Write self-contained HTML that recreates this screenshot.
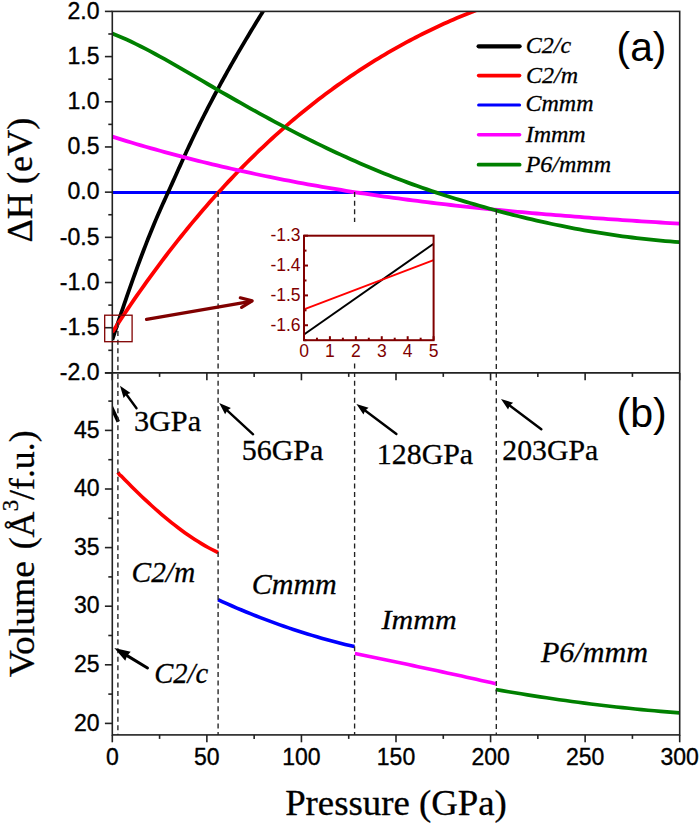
<!DOCTYPE html>
<html><head><meta charset="utf-8"><style>
html,body{margin:0;padding:0;background:#fff;}
svg{display:block;}
</style></head><body>
<svg width="700" height="825" viewBox="0 0 700 825">
<rect width="700" height="825" fill="#fff"/>
<defs><clipPath id="cp"><rect x="112.3" y="11.4" width="567.4000000000001" height="361.5"/></clipPath><clipPath id="cpb"><rect x="112.3" y="372.9" width="567.4000000000001" height="362.0"/></clipPath></defs>
<g clip-path="url(#cp)" fill="none" stroke-width="3.8" stroke-linecap="butt">
<line x1="112.3" y1="192.4" x2="679.7" y2="192.4" stroke="#0000ff" stroke-width="3"/>
<polyline points="112.30,339.83 113.63,335.80 114.95,331.78 116.28,327.78 117.60,323.80 118.93,319.84 120.25,315.90 121.58,311.97 122.90,308.07 124.23,304.19 125.55,300.32 126.88,296.49 128.20,292.67 129.53,288.88 130.85,285.12 132.18,281.38 133.50,277.66 134.83,273.98 136.15,270.32 137.48,266.69 138.80,263.09 140.13,259.52 141.45,255.99 142.78,252.48 144.11,249.01 145.43,245.57 146.76,242.17 148.08,238.80 149.41,235.46 150.73,232.17 152.06,228.91 153.38,225.69 154.71,222.51 156.03,219.36 157.36,216.26 158.68,213.20 160.01,210.19 161.33,207.21 162.66,204.27 163.98,201.35 165.31,198.45 166.63,195.55 167.96,192.65 169.28,189.73 170.61,186.79 171.93,183.85 173.26,180.89 174.58,177.93 175.91,174.97 177.24,172.01 178.56,169.05 179.89,166.10 181.21,163.16 182.54,160.24 183.86,157.33 185.19,154.44 186.51,151.57 187.84,148.72 189.16,145.89 190.49,143.08 191.81,140.29 193.14,137.52 194.46,134.77 195.79,132.03 197.11,129.31 198.44,126.61 199.76,123.93 201.09,121.26 202.41,118.62 203.74,115.98 205.06,113.37 206.39,110.77 207.72,108.19 209.04,105.62 210.37,103.07 211.69,100.53 213.02,98.01 214.34,95.51 215.67,93.02 216.99,90.54 218.32,88.07 219.64,85.62 220.97,83.19 222.29,80.77 223.62,78.36 224.94,75.96 226.27,73.58 227.59,71.20 228.92,68.84 230.24,66.49 231.57,64.16 232.89,61.83 234.22,59.52 235.54,57.21 236.87,54.92 238.19,52.64 239.52,50.37 240.85,48.10 242.17,45.85 243.50,43.60 244.82,41.37 246.15,39.14 247.47,36.92 248.80,34.71 250.12,32.51 251.45,30.31 252.77,28.12 254.10,25.94 255.42,23.77 256.75,21.60 258.07,19.44 259.40,17.28 260.72,15.13 262.05,12.98 263.37,10.84 264.70,8.71 266.02,6.58 267.35,4.45 268.67,2.32 270.00,0.20" stroke="#000"/>
<polyline points="112.30,332.25 115.43,327.43 118.56,322.66 121.70,317.93 124.83,313.25 127.96,308.61 131.09,304.01 134.22,299.45 137.36,294.94 140.49,290.48 143.62,286.05 146.75,281.67 149.88,277.33 153.02,273.03 156.15,268.78 159.28,264.56 162.41,260.39 165.54,256.26 168.67,252.17 171.81,248.12 174.94,244.11 178.07,240.14 181.20,236.21 184.33,232.32 187.47,228.47 190.60,224.66 193.73,220.89 196.86,217.16 199.99,213.46 203.13,209.81 206.26,206.19 209.39,202.61 212.52,199.07 215.65,195.56 218.79,192.09 221.92,188.66 225.05,185.26 228.18,181.90 231.31,178.58 234.45,175.29 237.58,172.04 240.71,168.82 243.84,165.64 246.97,162.49 250.11,159.37 253.24,156.30 256.37,153.25 259.50,150.24 262.63,147.26 265.76,144.31 268.90,141.40 272.03,138.52 275.16,135.67 278.29,132.86 281.42,130.07 284.56,127.32 287.69,124.60 290.82,121.91 293.95,119.25 297.08,116.62 300.22,114.03 303.35,111.46 306.48,108.92 309.61,106.42 312.74,103.94 315.88,101.49 319.01,99.07 322.14,96.68 325.27,94.32 328.40,91.99 331.54,89.68 334.67,87.40 337.80,85.15 340.93,82.93 344.06,80.74 347.19,78.57 350.33,76.43 353.46,74.31 356.59,72.22 359.72,70.16 362.85,68.12 365.99,66.11 369.12,64.13 372.25,62.16 375.38,60.23 378.51,58.32 381.65,56.43 384.78,54.57 387.91,52.73 391.04,50.91 394.17,49.12 397.31,47.35 400.44,45.61 403.57,43.89 406.70,42.19 409.83,40.52 412.97,38.87 416.10,37.24 419.23,35.64 422.36,34.06 425.49,32.50 428.63,30.96 431.76,29.44 434.89,27.95 438.02,26.48 441.15,25.03 444.28,23.60 447.42,22.20 450.55,20.81 453.68,19.45 456.81,18.11 459.94,16.79 463.08,15.49 466.21,14.21 469.34,12.95 472.47,11.72 475.60,10.50 478.74,9.30 481.87,8.13 485.00,6.97" stroke="#ff0000"/>
<polyline points="112.30,136.67 117.07,138.16 121.84,139.64 126.60,141.09 131.37,142.53 136.14,143.95 140.91,145.35 145.68,146.73 150.44,148.10 155.21,149.44 159.98,150.77 164.75,152.09 169.52,153.39 174.28,154.67 179.05,155.93 183.82,157.18 188.59,158.41 193.36,159.62 198.13,160.82 202.89,162.00 207.66,163.17 212.43,164.32 217.20,165.46 221.97,166.58 226.73,167.68 231.50,168.77 236.27,169.85 241.04,170.91 245.81,171.95 250.57,172.98 255.34,174.00 260.11,175.00 264.88,175.99 269.65,176.96 274.41,177.92 279.18,178.87 283.95,179.80 288.72,180.72 293.49,181.63 298.25,182.52 303.02,183.40 307.79,184.27 312.56,185.12 317.33,185.97 322.09,186.80 326.86,187.61 331.63,188.42 336.40,189.21 341.17,189.99 345.94,190.76 350.70,191.52 355.47,192.26 360.24,193.00 365.01,193.72 369.78,194.44 374.54,195.14 379.31,195.83 384.08,196.51 388.85,197.18 393.62,197.84 398.38,198.49 403.15,199.13 407.92,199.75 412.69,200.37 417.46,200.98 422.22,201.58 426.99,202.17 431.76,202.76 436.53,203.33 441.30,203.89 446.06,204.45 450.83,204.99 455.60,205.53 460.37,206.06 465.14,206.58 469.91,207.09 474.67,207.60 479.44,208.09 484.21,208.58 488.98,209.06 493.75,209.54 498.51,210.00 503.28,210.46 508.05,210.92 512.82,211.36 517.59,211.80 522.35,212.23 527.12,212.66 531.89,213.08 536.66,213.49 541.43,213.90 546.19,214.30 550.96,214.69 555.73,215.08 560.50,215.47 565.27,215.85 570.03,216.22 574.80,216.59 579.57,216.95 584.34,217.31 589.11,217.67 593.87,218.02 598.64,218.36 603.41,218.71 608.18,219.04 612.95,219.38 617.72,219.71 622.48,220.03 627.25,220.35 632.02,220.67 636.79,220.99 641.56,221.30 646.32,221.61 651.09,221.92 655.86,222.22 660.63,222.52 665.40,222.82 670.16,223.12 674.93,223.41 679.70,223.71" stroke="#ff00ff"/>
<polyline points="112.30,33.47 117.07,35.41 121.84,37.45 126.60,39.59 131.37,41.81 136.14,44.10 140.91,46.47 145.68,48.91 150.44,51.41 155.21,53.96 159.98,56.56 164.75,59.21 169.52,61.89 174.28,64.61 179.05,67.35 183.82,70.11 188.59,72.88 193.36,75.66 198.13,78.44 202.89,81.22 207.66,83.99 212.43,86.76 217.20,89.52 221.97,92.28 226.73,95.02 231.50,97.76 236.27,100.48 241.04,103.18 245.81,105.87 250.57,108.55 255.34,111.20 260.11,113.84 264.88,116.45 269.65,119.04 274.41,121.61 279.18,124.15 283.95,126.67 288.72,129.16 293.49,131.63 298.25,134.08 303.02,136.49 307.79,138.89 312.56,141.25 317.33,143.59 322.09,145.91 326.86,148.19 331.63,150.45 336.40,152.68 341.17,154.88 345.94,157.06 350.70,159.21 355.47,161.32 360.24,163.41 365.01,165.47 369.78,167.50 374.54,169.50 379.31,171.47 384.08,173.40 388.85,175.31 393.62,177.19 398.38,179.03 403.15,180.84 407.92,182.62 412.69,184.37 417.46,186.08 422.22,187.76 426.99,189.41 431.76,191.04 436.53,192.63 441.30,194.19 446.06,195.72 450.83,197.23 455.60,198.72 460.37,200.17 465.14,201.61 469.91,203.02 474.67,204.41 479.44,205.78 484.21,207.13 488.98,208.46 493.75,209.77 498.51,211.06 503.28,212.33 508.05,213.57 512.82,214.80 517.59,216.00 522.35,217.17 527.12,218.33 531.89,219.46 536.66,220.56 541.43,221.65 546.19,222.70 550.96,223.74 555.73,224.75 560.50,225.73 565.27,226.69 570.03,227.62 574.80,228.53 579.57,229.42 584.34,230.28 589.11,231.11 593.87,231.92 598.64,232.71 603.41,233.47 608.18,234.20 612.95,234.91 617.72,235.60 622.48,236.26 627.25,236.89 632.02,237.50 636.79,238.08 641.56,238.64 646.32,239.17 651.09,239.68 655.86,240.16 660.63,240.61 665.40,241.04 670.16,241.44 674.93,241.82 679.70,242.17" stroke="#008000"/>
</g>
<g fill="none" stroke-width="3.6" stroke-linecap="butt">
<line x1="111" y1="406" x2="118.3" y2="421.7" stroke="#000" stroke-width="3.6" clip-path="url(#cpb)"/>
<polyline points="117.9,472.3 119.5,474.8 121.50,476.22 124.83,479.66 128.16,483.05 131.49,486.40 134.82,489.71 138.16,492.97 141.49,496.18 144.82,499.34 148.15,502.44 151.48,505.50 154.81,508.49 158.14,511.43 161.47,514.31 164.80,517.13 168.13,519.88 171.47,522.58 174.80,525.20 178.13,527.76 181.46,530.25 184.79,532.67 188.12,535.01 191.45,537.28 194.78,539.48 198.11,541.59 201.44,543.63 204.78,545.59 208.11,547.46 211.44,549.25 214.77,550.95 218.10,552.56" stroke="#ff0000" stroke-linejoin="round"/>
<polyline points="218.00,599.72 222.71,601.86 227.41,603.96 232.12,606.02 236.83,608.04 241.53,610.03 246.24,611.98 250.95,613.90 255.66,615.77 260.36,617.61 265.07,619.42 269.78,621.18 274.48,622.91 279.19,624.60 283.90,626.26 288.60,627.87 293.31,629.45 298.02,631.00 302.72,632.50 307.43,633.97 312.14,635.40 316.84,636.80 321.55,638.16 326.26,639.48 330.97,640.76 335.67,642.01 340.38,643.22 345.09,644.39 349.79,645.52 354.50,646.62" stroke="#0000ff"/>
<polyline points="354.90,653.60 359.76,654.58 364.61,655.56 369.47,656.55 374.32,657.54 379.18,658.54 384.03,659.54 388.89,660.55 393.74,661.55 398.60,662.57 403.45,663.58 408.31,664.61 413.16,665.63 418.02,666.66 422.87,667.69 427.73,668.73 432.58,669.77 437.44,670.82 442.29,671.87 447.15,672.93 452.00,673.98 456.86,675.05 461.71,676.11 466.57,677.19 471.42,678.26 476.28,679.34 481.13,680.42 485.99,681.51 490.84,682.60 495.70,683.70" stroke="#ff00ff"/>
<polyline points="495.70,689.50 502.04,690.62 508.39,691.71 514.73,692.78 521.08,693.84 527.42,694.86 533.77,695.87 540.11,696.85 546.46,697.82 552.80,698.76 559.15,699.67 565.49,700.57 571.84,701.44 578.18,702.29 584.53,703.12 590.87,703.93 597.22,704.71 603.56,705.48 609.91,706.22 616.25,706.94 622.60,707.63 628.94,708.31 635.29,708.96 641.63,709.59 647.98,710.20 654.32,710.78 660.67,711.34 667.01,711.88 673.36,712.40 679.70,712.90" stroke="#008000"/>
</g>
<line x1="117.9" y1="322.5" x2="117.9" y2="734.9" stroke="#222" stroke-width="1.35" stroke-dasharray="5 3.57"/>
<line x1="218.1" y1="192.1" x2="218.1" y2="734.9" stroke="#222" stroke-width="1.35" stroke-dasharray="5 3.57"/>
<line x1="354.6" y1="192.1" x2="354.6" y2="734.9" stroke="#222" stroke-width="1.35" stroke-dasharray="5 3.57"/>
<line x1="496.3" y1="209.7" x2="496.3" y2="734.9" stroke="#222" stroke-width="1.35" stroke-dasharray="5 3.57"/>
<g stroke="#222" stroke-width="1.6" fill="none">
<rect x="112.3" y="11.4" width="567.4000000000001" height="723.5"/>
<line x1="104.89999999999999" y1="372.9" x2="679.7" y2="372.9"/>
<line x1="104.89999999999999" y1="11.40" x2="112.3" y2="11.40"/>
<line x1="108.3" y1="33.99" x2="112.3" y2="33.99"/>
<line x1="104.89999999999999" y1="56.59" x2="112.3" y2="56.59"/>
<line x1="108.3" y1="79.18" x2="112.3" y2="79.18"/>
<line x1="104.89999999999999" y1="101.78" x2="112.3" y2="101.78"/>
<line x1="108.3" y1="124.37" x2="112.3" y2="124.37"/>
<line x1="104.89999999999999" y1="146.96" x2="112.3" y2="146.96"/>
<line x1="108.3" y1="169.56" x2="112.3" y2="169.56"/>
<line x1="104.89999999999999" y1="192.15" x2="112.3" y2="192.15"/>
<line x1="108.3" y1="214.74" x2="112.3" y2="214.74"/>
<line x1="104.89999999999999" y1="237.34" x2="112.3" y2="237.34"/>
<line x1="108.3" y1="259.93" x2="112.3" y2="259.93"/>
<line x1="104.89999999999999" y1="282.52" x2="112.3" y2="282.52"/>
<line x1="108.3" y1="305.12" x2="112.3" y2="305.12"/>
<line x1="104.89999999999999" y1="327.71" x2="112.3" y2="327.71"/>
<line x1="108.3" y1="350.31" x2="112.3" y2="350.31"/>
<line x1="104.89999999999999" y1="372.90" x2="112.3" y2="372.90"/>
<line x1="112.30" y1="372.9" x2="112.30" y2="380.29999999999995"/>
<line x1="159.58" y1="372.9" x2="159.58" y2="376.9"/>
<line x1="206.87" y1="372.9" x2="206.87" y2="380.29999999999995"/>
<line x1="254.15" y1="372.9" x2="254.15" y2="376.9"/>
<line x1="301.43" y1="372.9" x2="301.43" y2="380.29999999999995"/>
<line x1="348.72" y1="372.9" x2="348.72" y2="376.9"/>
<line x1="396.00" y1="372.9" x2="396.00" y2="380.29999999999995"/>
<line x1="443.28" y1="372.9" x2="443.28" y2="376.9"/>
<line x1="490.57" y1="372.9" x2="490.57" y2="380.29999999999995"/>
<line x1="537.85" y1="372.9" x2="537.85" y2="376.9"/>
<line x1="585.13" y1="372.9" x2="585.13" y2="380.29999999999995"/>
<line x1="632.42" y1="372.9" x2="632.42" y2="376.9"/>
<line x1="679.70" y1="372.9" x2="679.70" y2="380.29999999999995"/>
<line x1="104.89999999999999" y1="723.40" x2="112.3" y2="723.40"/>
<line x1="108.3" y1="694.10" x2="112.3" y2="694.10"/>
<line x1="104.89999999999999" y1="664.80" x2="112.3" y2="664.80"/>
<line x1="108.3" y1="635.50" x2="112.3" y2="635.50"/>
<line x1="104.89999999999999" y1="606.20" x2="112.3" y2="606.20"/>
<line x1="108.3" y1="576.90" x2="112.3" y2="576.90"/>
<line x1="104.89999999999999" y1="547.60" x2="112.3" y2="547.60"/>
<line x1="108.3" y1="518.30" x2="112.3" y2="518.30"/>
<line x1="104.89999999999999" y1="489.00" x2="112.3" y2="489.00"/>
<line x1="108.3" y1="459.70" x2="112.3" y2="459.70"/>
<line x1="104.89999999999999" y1="430.40" x2="112.3" y2="430.40"/>
<line x1="108.3" y1="401.10" x2="112.3" y2="401.10"/>
<line x1="112.30" y1="734.9" x2="112.30" y2="742.3"/>
<line x1="159.58" y1="734.9" x2="159.58" y2="738.9"/>
<line x1="206.87" y1="734.9" x2="206.87" y2="742.3"/>
<line x1="254.15" y1="734.9" x2="254.15" y2="738.9"/>
<line x1="301.43" y1="734.9" x2="301.43" y2="742.3"/>
<line x1="348.72" y1="734.9" x2="348.72" y2="738.9"/>
<line x1="396.00" y1="734.9" x2="396.00" y2="742.3"/>
<line x1="443.28" y1="734.9" x2="443.28" y2="738.9"/>
<line x1="490.57" y1="734.9" x2="490.57" y2="742.3"/>
<line x1="537.85" y1="734.9" x2="537.85" y2="738.9"/>
<line x1="585.13" y1="734.9" x2="585.13" y2="742.3"/>
<line x1="632.42" y1="734.9" x2="632.42" y2="738.9"/>
<line x1="679.70" y1="734.9" x2="679.70" y2="742.3"/>
</g>
<g font-family='"Liberation Sans", sans-serif' font-size="23" fill="#000" stroke="#000" stroke-width="0.35" text-anchor="end">
<text x="99.5" y="18.60">2.0</text>
<text x="99.5" y="63.79">1.5</text>
<text x="99.5" y="108.98">1.0</text>
<text x="99.5" y="154.16">0.5</text>
<text x="99.5" y="199.35">0.0</text>
<text x="99.5" y="244.54">-0.5</text>
<text x="99.5" y="289.72">-1.0</text>
<text x="99.5" y="334.91">-1.5</text>
<text x="99.5" y="380.10">-2.0</text>
<text x="99.5" y="730.60">20</text>
<text x="99.5" y="672.00">25</text>
<text x="99.5" y="613.40">30</text>
<text x="99.5" y="554.80">35</text>
<text x="99.5" y="496.20">40</text>
<text x="99.5" y="437.60">45</text>
</g>
<g font-family='"Liberation Sans", sans-serif' font-size="23" fill="#000" stroke="#000" stroke-width="0.35" text-anchor="middle">
<text x="112.30" y="764.7">0</text>
<text x="206.87" y="764.7">50</text>
<text x="301.43" y="764.7">100</text>
<text x="396.00" y="764.7">150</text>
<text x="490.57" y="764.7">200</text>
<text x="585.13" y="764.7">250</text>
<text x="679.70" y="764.7">300</text>
</g>
<line x1="478.6" y1="46.3" x2="519.6" y2="46.3" stroke="#000" stroke-width="4.2" stroke-linecap="round"/>
<line x1="478.6" y1="75.6" x2="519.6" y2="75.6" stroke="#ff0000" stroke-width="3.6" stroke-linecap="round"/>
<line x1="478.6" y1="105" x2="519.6" y2="105" stroke="#0000ff" stroke-width="3.0" stroke-linecap="round"/>
<line x1="478.6" y1="134.8" x2="519.6" y2="134.8" stroke="#ff00ff" stroke-width="3.6" stroke-linecap="round"/>
<line x1="478.6" y1="164.7" x2="519.6" y2="164.7" stroke="#008000" stroke-width="3.8" stroke-linecap="round"/>
<line x1="136.5" y1="408.3" x2="125.90" y2="393.78" stroke="#000" stroke-width="2.4" stroke-linecap="round"/><polygon points="120,385.7 130.51,392.89 126.49,394.58 123.64,397.90" fill="#000"/>
<line x1="253.1" y1="434.3" x2="226.55" y2="409.78" stroke="#000" stroke-width="2.4" stroke-linecap="round"/><polygon points="219.2,403 230.90,408.02 227.28,410.46 225.13,414.26" fill="#000"/>
<line x1="396.4" y1="434" x2="364.40" y2="410.00" stroke="#000" stroke-width="2.4" stroke-linecap="round"/><polygon points="356.4,404 368.55,407.80 365.20,410.60 363.45,414.60" fill="#000"/>
<line x1="541.3" y1="429.2" x2="509.00" y2="405.00" stroke="#000" stroke-width="2.4" stroke-linecap="round"/><polygon points="501,399 513.15,402.80 509.80,405.60 508.05,409.60" fill="#000"/>
<line x1="147.5" y1="668" x2="126.28" y2="655.15" stroke="#000" stroke-width="3.0" stroke-linecap="round"/><polygon points="114.3,647.9 130.71,651.70 127.13,655.67 125.27,660.68" fill="#000"/>
<rect x="104.7" y="315.2" width="27.4" height="26.5" fill="none" stroke="#800000" stroke-width="1.3"/>
<line x1="146.5" y1="319.4" x2="251" y2="301.3" stroke="#800000" stroke-width="3.2" stroke-linecap="round"/>
<polyline points="240.3,297.8 252.2,300.9 241.6,307.4" fill="none" stroke="#800000" stroke-width="3.2" stroke-linecap="round" stroke-linejoin="round"/>
<rect x="266" y="222" width="176" height="140" fill="#fff"/>
<line x1="304.0" y1="334.5035" x2="433.6" y2="243.75949999999997" stroke="#000" stroke-width="2"/>
<line x1="304.0" y1="309.42949999999996" x2="433.6" y2="260.17699999999996" stroke="#ff0000" stroke-width="2"/>
<g stroke="#800000" stroke-width="2">
<line x1="304.00" y1="340.2" x2="304.00" y2="336.2"/>
<line x1="316.96" y1="340.2" x2="316.96" y2="337.7"/>
<line x1="329.92" y1="340.2" x2="329.92" y2="336.2"/>
<line x1="342.88" y1="340.2" x2="342.88" y2="337.7"/>
<line x1="355.84" y1="340.2" x2="355.84" y2="336.2"/>
<line x1="368.80" y1="340.2" x2="368.80" y2="337.7"/>
<line x1="381.76" y1="340.2" x2="381.76" y2="336.2"/>
<line x1="394.72" y1="340.2" x2="394.72" y2="337.7"/>
<line x1="407.68" y1="340.2" x2="407.68" y2="336.2"/>
<line x1="420.64" y1="340.2" x2="420.64" y2="337.7"/>
<line x1="433.60" y1="340.2" x2="433.60" y2="336.2"/>
<line x1="304.0" y1="235.70" x2="308.0" y2="235.70"/>
<line x1="304.0" y1="250.62" x2="306.5" y2="250.62"/>
<line x1="304.0" y1="265.55" x2="308.0" y2="265.55"/>
<line x1="304.0" y1="280.48" x2="306.5" y2="280.48"/>
<line x1="304.0" y1="295.40" x2="308.0" y2="295.40"/>
<line x1="304.0" y1="310.32" x2="306.5" y2="310.32"/>
<line x1="304.0" y1="325.25" x2="308.0" y2="325.25"/>
<line x1="304.0" y1="340.18" x2="306.5" y2="340.18"/>
<rect x="304.0" y="235.7" width="129.60000000000002" height="104.5" fill="none"/>
</g>
<g font-family='"Liberation Sans", sans-serif' font-size="17.5" fill="#800000">
<text x="300.6" y="241.30" text-anchor="end">-1.3</text>
<text x="300.6" y="271.15" text-anchor="end">-1.4</text>
<text x="300.6" y="301.00" text-anchor="end">-1.5</text>
<text x="300.6" y="330.85" text-anchor="end">-1.6</text>
<text x="304.00" y="356.8" text-anchor="middle">0</text>
<text x="329.92" y="356.8" text-anchor="middle">1</text>
<text x="355.84" y="356.8" text-anchor="middle">2</text>
<text x="381.76" y="356.8" text-anchor="middle">3</text>
<text x="407.68" y="356.8" text-anchor="middle">4</text>
<text x="433.60" y="356.8" text-anchor="middle">5</text>
</g>
<g transform="translate(-7.807,24.370) scale(1.0223,0.9697)"><text stroke="#000" stroke-width="0.3" x="395" y="815.7" font-family='"Liberation Serif", serif' font-size="36" text-anchor="middle">Pressure (GPa)</text></g>
<g transform="translate(-0.600,-0.580) scale(1.0000,1.0066)"><text stroke="#000" stroke-width="0.3" transform="translate(32.5,179.5) rotate(-90)" font-family='"Liberation Serif", serif' font-size="36" text-anchor="middle">ΔH (eV)</text></g>
<g transform="translate(-1.100,-28.241) scale(1.0000,1.0441)"><text stroke="#000" stroke-width="0.3" transform="translate(35.5,620) rotate(-90)" font-family='"Liberation Serif", serif' font-size="36" text-anchor="middle">Volume</text></g>
<g transform="translate(-2.000,3.222) scale(1.0000,0.9932)"><text stroke="#000" stroke-width="0.3" transform="translate(35.5,490) rotate(-90)" font-family='"Liberation Serif", serif' font-size="36" text-anchor="middle">(Å<tspan font-size="23" dy="-16" dx="0.3">3</tspan><tspan dy="16" dx="0">/f.u.)</tspan></text></g>
<g transform="translate(-10.387,-0.232) scale(1.0178,0.9947)"><text x="616" y="62" font-family='"Liberation Sans", sans-serif' font-size="40">(a)</text></g>
<g transform="translate(-18.282,-0.795) scale(1.0289,0.9947)"><text x="617" y="430" font-family='"Liberation Sans", sans-serif' font-size="40">(b)</text></g>
<g transform="translate(-1.250,-1.150) scale(1.0000,1.0000)"><text stroke="#000" stroke-width="0.3" x="527" y="53.8" font-family='"Liberation Serif", serif' font-style="italic" font-size="24">C2/c</text></g>
<g transform="translate(-1.000,-0.500) scale(1.0000,1.0000)"><text stroke="#000" stroke-width="0.3" x="527" y="83.1" font-family='"Liberation Serif", serif' font-style="italic" font-size="24">C2/m</text></g>
<g transform="translate(-1.500,-1.450) scale(1.0000,1.0000)"><text stroke="#000" stroke-width="0.3" x="527" y="112.5" font-family='"Liberation Serif", serif' font-style="italic" font-size="24">Cmmm</text></g>
<g transform="translate(-1.300,-0.300) scale(1.0000,1.0000)"><text stroke="#000" stroke-width="0.3" x="527" y="142.3" font-family='"Liberation Serif", serif' font-style="italic" font-size="24">Immm</text></g>
<g transform="translate(-1.300,-0.650) scale(1.0000,1.0000)"><text stroke="#000" stroke-width="0.3" x="527" y="172.2" font-family='"Liberation Serif", serif' font-style="italic" font-size="24">P6/mmm</text></g>
<g transform="translate(-1.327,13.633) scale(1.0091,0.9667)"><text stroke="#000" stroke-width="0.3" x="134" y="432.1" font-family='"Liberation Serif", serif' font-size="30">3GPa</text></g>
<g transform="translate(-0.300,17.100) scale(1.0000,0.9619)"><text stroke="#000" stroke-width="0.3" x="242" y="460.7" font-family='"Liberation Serif", serif' font-size="30">56GPa</text></g>
<g transform="translate(-0.597,22.143) scale(0.9968,0.9524)"><text stroke="#000" stroke-width="0.3" x="378.6" y="463.8" font-family='"Liberation Serif", serif' font-size="30">128GPa</text></g>
<g transform="translate(2.857,20.800) scale(0.9918,0.9524)"><text stroke="#000" stroke-width="0.3" x="503.6" y="461.3" font-family='"Liberation Serif", serif' font-size="30">203GPa</text></g>
<g transform="translate(3.014,-6.640) scale(0.9810,1.0100)"><text stroke="#000" stroke-width="0.3" x="131" y="583.2" font-family='"Liberation Serif", serif' font-style="italic" font-size="30">C2/m</text></g>
<g transform="translate(0.396,-6.860) scale(1.0012,1.0100)"><text stroke="#000" stroke-width="0.3" x="251" y="595.2" font-family='"Liberation Serif", serif' font-style="italic" font-size="30">Cmmm</text></g>
<g transform="translate(8.525,-8.845) scale(0.9518,1.0150)"><text stroke="#000" stroke-width="0.3" x="153" y="682" font-family='"Liberation Serif", serif' font-style="italic" font-size="30">C2/c</text></g>
<g transform="translate(0.589,45.400) scale(1.0027,0.9286)"><text stroke="#000" stroke-width="0.3" x="380" y="628.9" font-family='"Liberation Serif", serif' font-style="italic" font-size="30">Immm</text></g>
<g transform="translate(-0.111,25.519) scale(1.0037,0.9619)"><text stroke="#000" stroke-width="0.3" x="539" y="661.3" font-family='"Liberation Serif", serif' font-style="italic" font-size="30">P6/mmm</text></g>
</svg></body></html>
